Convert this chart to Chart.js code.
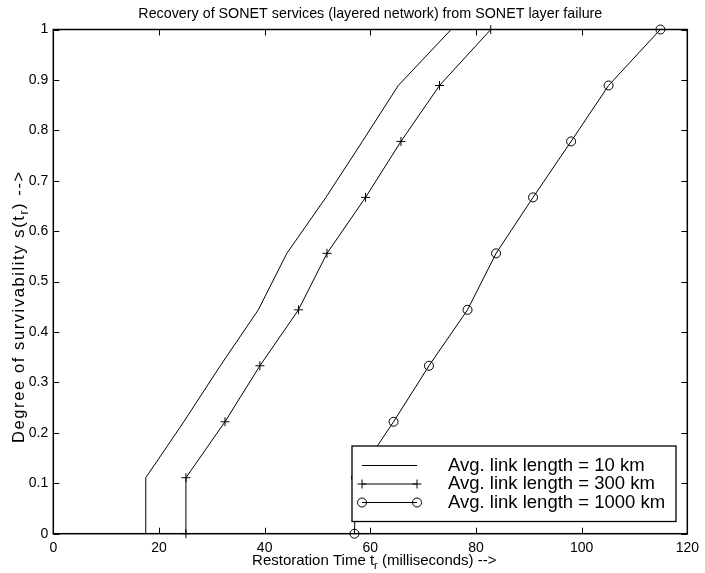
<!DOCTYPE html>
<html>
<head>
<meta charset="utf-8">
<script src="https://cdn.jsdelivr.net/npm/chart.js@4.4.0/dist/chart.umd.min.js"></script>
<style>
  body { margin: 0; background: #fff; }
  canvas { display: block; }
</style>
</head>
<body>
<canvas id="chart" width="705" height="573"></canvas>
<script>
// survivability levels (y) and restoration times (x, ms) for each link length
const survival = [0, 0.111, 0.222, 0.333, 0.444, 0.556, 0.667, 0.778, 0.889, 1];
const time10km = [17.5, 17.5, 24.7, 31.6, 38.8, 44.2, 51.6, 58.5, 65.3, 75.3];
const time300km = [25.1, 25.1, 32.5, 39.1, 46.4, 51.8, 59.1, 65.8, 73.1, 82.8];
const time1000km = [57.0, 57.3, 64.4, 71.1, 78.4, 83.8, 90.8, 98.0, 105.1, 114.9];

const seriesLabels = ['Avg. link length = 10 km', 'Avg. link length = 300 km', 'Avg. link length = 1000 km'];
const xTickValues = [0, 20, 40, 60, 80, 100, 120];
const yTickValues = [0, 0.1, 0.2, 0.3, 0.4, 0.5, 0.6, 0.7, 0.8, 0.9, 1];

const titleText = 'Recovery of SONET services (layered network) from SONET layer failure';
const xLabelParts = [['Restoration Time t', false], ['r', true], [' (milliseconds) -->', false]];
const yLabelParts = [['Degree of survivability s(t', false], ['r', true], [') -->', false]];

const FONT = '"Liberation Sans", Arial, Helvetica, sans-serif';

function toPoints(xs) {
    return xs.map((x, i) => ({ x: x, y: survival[i] }));
}

function drawMarker(ctx, style, x, y) {
    ctx.beginPath();
    if (style === 'cross') {
        ctx.moveTo(x - 4.5, y); ctx.lineTo(x + 4.5, y);
        ctx.moveTo(x, y - 4.5); ctx.lineTo(x, y + 4.5);
    } else if (style === 'circle') {
        ctx.arc(x, y, 4.5, 0, Math.PI * 2);
    }
    ctx.stroke();
}

function partsWidth(ctx, parts, size) {
    let w = 0;
    parts.forEach(p => {
        ctx.font = (p[1] ? Math.round(size * 0.7) : size) + 'px ' + FONT;
        w += ctx.measureText(p[0]).width;
    });
    return w;
}

// draws text pieces one char at a time so spacing is explicit
function drawParts(ctx, parts, x, y, size, spacing) {
    parts.forEach(p => {
        const s = p[1] ? Math.round(size * 0.7) : size;
        ctx.font = s + 'px ' + FONT;
        const yy = p[1] ? y + size * 0.35 : y;
        if (!spacing) {
            ctx.fillText(p[0], x, yy);
            x += ctx.measureText(p[0]).width;
        } else {
            for (const ch of p[0]) {
                ctx.fillText(ch, x, yy);
                x += ctx.measureText(ch).width + spacing;
            }
        }
    });
}

const decorations = {
    id: 'decorations',
    afterDatasetsDraw(chart) {
        const ctx = chart.ctx;
        const a = chart.chartArea;
        const xs = chart.scales.x, ys = chart.scales.y;
        ctx.save();
        ctx.strokeStyle = '#000';
        ctx.lineWidth = 1;
        // inward tick marks on all four sides
        ctx.beginPath();
        xs.ticks.forEach(t => {
            const px = Math.round(xs.getPixelForValue(t.value)) + 0.5;
            ctx.moveTo(px, a.bottom); ctx.lineTo(px, a.bottom - 6);
            ctx.moveTo(px, a.top); ctx.lineTo(px, a.top + 6);
        });
        ys.ticks.forEach(t => {
            const py = Math.round(ys.getPixelForValue(t.value)) + 0.5;
            ctx.moveTo(a.left, py); ctx.lineTo(a.left + 6, py);
            ctx.moveTo(a.right, py); ctx.lineTo(a.right - 6, py);
        });
        ctx.stroke();
        // axes box
        ctx.lineWidth = 1.5;
        ctx.strokeRect(a.left, a.top, a.right - a.left, a.bottom - a.top);

        // legend
        const box = { left: 352, top: 446, right: 676, bottom: 521.5 };
        ctx.fillStyle = '#fff';
        ctx.fillRect(box.left, box.top, box.right - box.left, box.bottom - box.top);
        ctx.lineWidth = 1.3;
        ctx.strokeRect(box.left, box.top, box.right - box.left, box.bottom - box.top);
        const rowY = [465.5, 484, 502.5];
        ctx.lineWidth = 1;
        ctx.fillStyle = '#000';
        ctx.textBaseline = 'middle';
        ctx.textAlign = 'left';
        ctx.font = '18.5px ' + FONT;
        chart.data.datasets.forEach((ds, i) => {
            const y = rowY[i];
            ctx.beginPath();
            ctx.moveTo(362, y); ctx.lineTo(417, y);
            ctx.stroke();
            if (ds.pointRadius > 0) {
                drawMarker(ctx, ds.pointStyle, 362, y);
                drawMarker(ctx, ds.pointStyle, 417, y);
            }
            ctx.fillText(ds.label, 448, y);
        });
        ctx.restore();
    },
    afterDraw(chart) {
        const ctx = chart.ctx;
        const a = chart.chartArea;
        const cx = (a.left + a.right) / 2;
        ctx.save();
        ctx.fillStyle = '#000';
        ctx.textBaseline = 'middle';
        ctx.textAlign = 'center';
        ctx.font = '14.3px ' + FONT;
        ctx.fillText(titleText, cx, 14);

        ctx.textAlign = 'left';
        const w = partsWidth(ctx, xLabelParts, 15);
        drawParts(ctx, xLabelParts, cx + 4 - w / 2, 561, 15, 0);

        // y label runs upward from just above the 0.2 level
        ctx.translate(19, 443);
        ctx.rotate(-Math.PI / 2);
        drawParts(ctx, yLabelParts, 0, 0, 16.5, 1.6);
        ctx.restore();
    }
};

function makeDataset(label, xs, style) {
    return {
        label: label,
        data: toPoints(xs),
        borderColor: '#000',
        borderWidth: 1,
        pointStyle: style || 'circle',
        pointRadius: style ? 4.5 : 0,
        pointHoverRadius: style ? 4.5 : 0,
        pointBorderColor: '#000',
        pointBackgroundColor: 'rgba(0,0,0,0)',
        pointBorderWidth: 1,
        tension: 0,
        fill: false,
        clip: false
    };
}

new Chart(document.getElementById('chart').getContext('2d'), {
    type: 'line',
    data: {
        datasets: [
            makeDataset(seriesLabels[0], time10km, null),
            makeDataset(seriesLabels[1], time300km, 'cross'),
            makeDataset(seriesLabels[2], time1000km, 'circle')
        ]
    },
    options: {
        responsive: false,
        animation: false,
        devicePixelRatio: 1,
        layout: { padding: { top: 29.5, right: 11.7, left: 0, bottom: 0 } },
        plugins: {
            legend: { display: false },
            title: { display: false },
            tooltip: { enabled: false }
        },
        scales: {
            x: {
                type: 'linear',
                min: 0,
                max: 120,
                afterBuildTicks: scale => { scale.ticks = xTickValues.map(v => ({ value: v })); },
                afterFit: scale => { scale.height = 39.3; },
                ticks: { color: '#000', font: { family: FONT, size: 14 }, padding: 6, maxRotation: 0 },
                grid: { display: false, drawTicks: false },
                border: { display: false }
            },
            y: {
                type: 'linear',
                min: 0,
                max: 1,
                afterBuildTicks: scale => { scale.ticks = yTickValues.map(v => ({ value: v })); },
                afterFit: scale => { scale.width = 53.3; },
                ticks: {
                    color: '#000',
                    font: { family: FONT, size: 14 },
                    padding: 5,
                    callback: v => String(Math.round(v * 10) / 10)
                },
                grid: { display: false, drawTicks: false },
                border: { display: false }
            }
        }
    },
    plugins: [decorations]
});
</script>
</body>
</html>
